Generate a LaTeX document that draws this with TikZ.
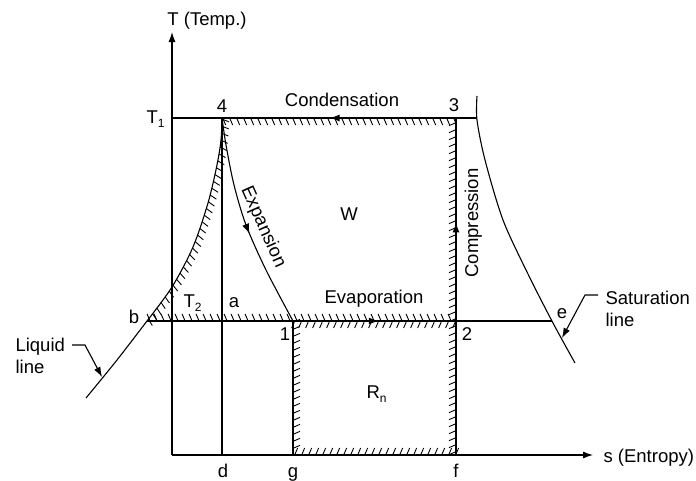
\documentclass[tikz,border=0pt]{standalone}
\usepackage{fontspec}
\setmainfont{Liberation Sans}
\usetikzlibrary{decorations.markings,arrows.meta}
\newcommand\sbs[1]{\raisebox{-0.45ex}{\fontsize{12}{12}\selectfont #1}}
\begin{document}
\begin{tikzpicture}[x=1pt,y=-1pt,line width=1.1pt,
  lbl/.style={font=\fontsize{18.5}{22}\selectfont, inner sep=0pt, anchor=base},
  lblw/.style={lbl, anchor=base west},
  hatch/.style={postaction={decorate,decoration={markings,
     mark=between positions 0.01 and 0.999 step 7pt with {\draw[line width=0.9pt] (0,0) -- #1;}}}},
  midarrow/.style={postaction={decorate,decoration={markings,
     mark=at position #1 with {\arrow{Latex[length=10pt,width=7pt]}}}}},
  tip/.style={-{Latex[length=10pt,width=7pt]}}]
\useasboundingbox (0,0) rectangle (696,480);

% key points
\coordinate (O) at (172,455);
\coordinate (Ytop) at (172,32);
\coordinate (Xend) at (593,455);
\coordinate (T1L) at (172,118);
\coordinate (P4) at (222,118);
\coordinate (P3) at (456,118);
\coordinate (S1) at (477,118);
\coordinate (Pb) at (147,321);
\coordinate (P1) at (293,321);
\coordinate (P2) at (456,321);
\coordinate (Pe) at (552,321);
\coordinate (Pd) at (222,455);
\coordinate (Pg) at (293,455);
\coordinate (Pf) at (456,455);

% axes
\draw[tip] (O) -- (Ytop);
\draw[tip] (O) -- (Xend);

% plain lines
\draw (T1L) -- (S1);
\draw (Pb) -- (Pe);
\draw (P4) -- (Pd);

% saturation line
\draw plot[smooth] coordinates {(477,96) (477,120) (485,160) (503,220) (528,274) (553,323) (575,363)};

% liquid line
\draw plot[smooth] coordinates {(86,398) (117,360) (147,321)};
\draw[hatch={(-2.5pt,-7pt)}] plot[smooth] coordinates {(147,321) (172,287) (193,247) (208,203) (217,165) (221,140) (222,118)};

% expansion curve
\draw[midarrow=0.55] plot[smooth] coordinates {(222,118) (226,145) (234,185) (246,225) (266,270) (293,321)};

% cycle edges (hatched)
\draw[hatch={(-3pt,7pt)}, midarrow=0.54] (P3) -- (P4);
\draw[hatch={(-3pt,7pt)}, midarrow=0.69] (Pf) -- (P3);
\draw[hatch={(-3pt,7pt)}, midarrow=0.75] (Pb) -- (P2);
\draw[hatch={(-3pt,-7pt)}] (P1) -- (P2);
\draw[hatch={(-3pt,7pt)}] (P1) -- (Pg);
\draw[hatch={(3pt,7pt)}] (Pg) -- (Pf);

% leaders
\draw[tip] (598,295) -- (585,295) -- (562,338);
\draw[tip] (72,345) -- (85,345) -- (102,377);

% labels
\node[lbl] (lT) at (207,25) {T (Temp.)};
\node[lblw] (lT1) at (146,123) {T\sbs{1}};
\node[lbl] (l4) at (222,112) {4};
\node[lbl] (l3) at (454,111) {3};
\node[lbl] (lcond) at (342,106) {Condensation};
\node[lbl] (lW) at (349,220) {W};
\node[font=\fontsize{18.5}{22}\selectfont, inner sep=0pt, rotate=-66] (lexp) at (263,227) {Expansion};
\node[lbl, rotate=90] (lcomp) at (478,223) {Compression};
\node[lbl] (levap) at (374,303) {Evaporation};
\node[lblw] (lT2) at (183,307) {T\sbs{2}};
\node[lbl] (la) at (234,307) {a};
\node[lbl] (lb) at (134,323) {b};
\node[lbl] (l1) at (285,340) {1};
\node[lbl] (l2) at (467,340) {2};
\node[lbl] (le) at (562,318) {e};
\node[lbl] (ld) at (223,477) {d};
\node[lbl] (lg) at (293,477) {g};
\node[lbl] (lf) at (456,477) {f};
\node[lblw] (lR) at (366,398) {R\sbs{n}};
\node[lblw] (ls) at (603,462) {s (Entropy)};
\node[lblw] (lsat1) at (605,304) {Saturation};
\node[lblw] (lsat2) at (605,326) {line};
\node[lblw] (lliq1) at (15,351) {Liquid};
\node[lblw] (lliq2) at (15,373) {line};
\end{tikzpicture}
\end{document}
